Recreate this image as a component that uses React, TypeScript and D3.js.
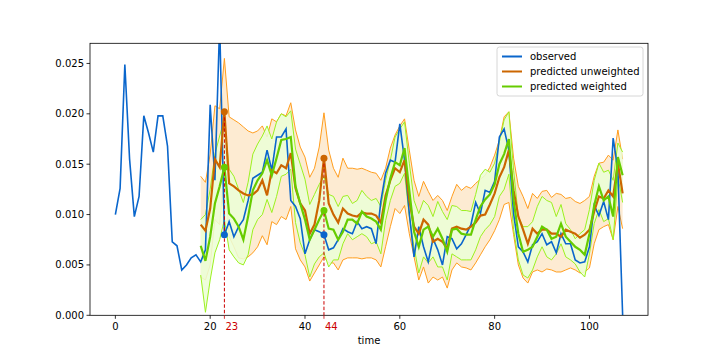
import React from "react";
import * as d3 from "d3";

const observed = [
  0.0100, 0.0126, 0.0249, 0.0155, 0.0098, 0.0118, 0.0198, 0.0181, 0.0162, 0.0198,
  0.0198, 0.0168, 0.0073, 0.0069, 0.0045, 0.0050, 0.0057, 0.0060, 0.0053, 0.0065,
  0.0209, 0.0134, 0.0290, 0.0080, 0.0093, 0.0078, 0.0088, 0.0095, 0.0114, 0.0136,
  0.0139, 0.0142, 0.0164, 0.0144, 0.0177, 0.0177, 0.0185, 0.0114, 0.0108, 0.0096,
  0.0061, 0.0075, 0.0085, 0.0083, 0.0080, 0.0065, 0.0067, 0.0075, 0.0086, 0.0083,
  0.0081, 0.0093, 0.0086, 0.0088, 0.0086, 0.0071, 0.0113, 0.0141, 0.0154, 0.0152,
  0.0190, 0.0154, 0.0101, 0.0058, 0.0088, 0.0068, 0.0053, 0.0076, 0.0065, 0.0050,
  0.0078, 0.0076, 0.0066, 0.0071, 0.0080, 0.0090, 0.0112, 0.0101, 0.0124, 0.0122,
  0.0133, 0.0177, 0.0185, 0.0164, 0.0101, 0.0068, 0.0063, 0.0053, 0.0070, 0.0073,
  0.0081, 0.0070, 0.0073, 0.0062, 0.0081, 0.0071, 0.0071, 0.0055, 0.0052, 0.0053,
  0.0068, 0.0109, 0.0099, 0.0113, 0.0095, 0.0176, 0.0144, 0.0000,
];

const predStart = 18;

const predUnweighted = [
  0.0090, 0.0084, 0.0106, 0.0155, 0.0147, 0.0202, 0.0131, 0.0128, 0.0124, 0.0121,
  0.0119, 0.0120, 0.0124, 0.0134, 0.0119, 0.0144, 0.0141, 0.0149, 0.0146, 0.0161,
  0.0126, 0.0111, 0.0104, 0.0081, 0.0090, 0.0114, 0.0156, 0.0111, 0.0100, 0.0092,
  0.0106, 0.0101, 0.0099, 0.0098, 0.0102, 0.0101, 0.0101, 0.0099, 0.0092, 0.0119,
  0.0134, 0.0146, 0.0142, 0.0154, 0.0114, 0.0088, 0.0081, 0.0095, 0.0090, 0.0073,
  0.0076, 0.0073, 0.0066, 0.0086, 0.0088, 0.0086, 0.0085, 0.0088, 0.0092, 0.0099,
  0.0100, 0.0110, 0.0121, 0.0137, 0.0147, 0.0164, 0.0124, 0.0098, 0.0085, 0.0071,
  0.0086, 0.0081, 0.0085, 0.0085, 0.0081, 0.0081, 0.0078, 0.0085, 0.0083, 0.0081,
  0.0077, 0.0080, 0.0085, 0.0103, 0.0118, 0.0116, 0.0124, 0.0118, 0.0151, 0.0121,
];

const predWeighted = [
  0.0069, 0.0054, 0.0078, 0.0111, 0.0128, 0.0147, 0.0101, 0.0096, 0.0088, 0.0075,
  0.0098, 0.0124, 0.0134, 0.0141, 0.0154, 0.0139, 0.0156, 0.0174, 0.0175, 0.0177,
  0.0128, 0.0111, 0.0095, 0.0075, 0.0085, 0.0095, 0.0104, 0.0086, 0.0085, 0.0075,
  0.0083, 0.0095, 0.0095, 0.0091, 0.0103, 0.0098, 0.0096, 0.0093, 0.0085, 0.0114,
  0.0136, 0.0152, 0.0149, 0.0166, 0.0124, 0.0083, 0.0068, 0.0085, 0.0088, 0.0078,
  0.0086, 0.0076, 0.0063, 0.0085, 0.0086, 0.0081, 0.0080, 0.0080, 0.0095, 0.0108,
  0.0115, 0.0120, 0.0130, 0.0150, 0.0160, 0.0175, 0.0114, 0.0081, 0.0063, 0.0065,
  0.0068, 0.0078, 0.0088, 0.0085, 0.0076, 0.0078, 0.0091, 0.0078, 0.0073, 0.0068,
  0.0065, 0.0060, 0.0081, 0.0109, 0.0128, 0.0114, 0.0118, 0.0098, 0.0157, 0.0139,
];

const unweightedUpper = [
  0.0138, 0.0132, 0.0160, 0.0208, 0.0205, 0.0255, 0.0197, 0.0194, 0.0191, 0.0187,
  0.0183, 0.0181, 0.0183, 0.0188, 0.0177, 0.0195, 0.0192, 0.0200, 0.0198, 0.0211,
  0.0184, 0.0167, 0.0157, 0.0137, 0.0146, 0.0167, 0.0201, 0.0164, 0.0146, 0.0137,
  0.0156, 0.0146, 0.0146, 0.0145, 0.0146, 0.0144, 0.0142, 0.0141, 0.0134, 0.0146,
  0.0166, 0.0179, 0.0188, 0.0195, 0.0164, 0.0134, 0.0118, 0.0133, 0.0123, 0.0114,
  0.0119, 0.0114, 0.0104, 0.0118, 0.0130, 0.0124, 0.0128, 0.0126, 0.0131, 0.0135,
  0.0139, 0.0147, 0.0159, 0.0174, 0.0197, 0.0202, 0.0156, 0.0128, 0.0118, 0.0106,
  0.0121, 0.0116, 0.0123, 0.0124, 0.0117, 0.0121, 0.0120, 0.0116, 0.0117, 0.0113,
  0.0111, 0.0114, 0.0118, 0.0138, 0.0151, 0.0152, 0.0159, 0.0154, 0.0184, 0.0155,
];

const unweightedLower = [
  0.0038, 0.0035, 0.0050, 0.0095, 0.0090, 0.0145, 0.0078, 0.0068, 0.0057, 0.0056,
  0.0058, 0.0062, 0.0068, 0.0079, 0.0070, 0.0093, 0.0090, 0.0098, 0.0095, 0.0108,
  0.0066, 0.0055, 0.0048, 0.0034, 0.0042, 0.0050, 0.0058, 0.0052, 0.0052, 0.0045,
  0.0055, 0.0057, 0.0057, 0.0057, 0.0056, 0.0057, 0.0057, 0.0055, 0.0048, 0.0068,
  0.0088, 0.0106, 0.0101, 0.0109, 0.0081, 0.0058, 0.0035, 0.0048, 0.0032, 0.0038,
  0.0035, 0.0038, 0.0027, 0.0045, 0.0052, 0.0048, 0.0047, 0.0045, 0.0052, 0.0060,
  0.0068, 0.0075, 0.0084, 0.0095, 0.0110, 0.0112, 0.0080, 0.0050, 0.0037, 0.0032,
  0.0043, 0.0045, 0.0043, 0.0046, 0.0045, 0.0043, 0.0043, 0.0045, 0.0047, 0.0045,
  0.0042, 0.0043, 0.0047, 0.0071, 0.0085, 0.0088, 0.0090, 0.0075, 0.0108, 0.0086,
];

const weightedUpper = [
  0.0095, 0.0100, 0.0125, 0.0160, 0.0178, 0.0195, 0.0145, 0.0138, 0.0125, 0.0112,
  0.0132, 0.0160, 0.0170, 0.0178, 0.0188, 0.0175, 0.0192, 0.0200, 0.0197, 0.0203,
  0.0165, 0.0150, 0.0135, 0.0110, 0.0120, 0.0130, 0.0138, 0.0120, 0.0118, 0.0108,
  0.0118, 0.0119, 0.0111, 0.0114, 0.0124, 0.0118, 0.0114, 0.0116, 0.0108, 0.0134,
  0.0154, 0.0177, 0.0185, 0.0192, 0.0151, 0.0114, 0.0101, 0.0114, 0.0109, 0.0098,
  0.0113, 0.0103, 0.0095, 0.0109, 0.0108, 0.0104, 0.0104, 0.0103, 0.0120, 0.0139,
  0.0145, 0.0142, 0.0151, 0.0172, 0.0194, 0.0202, 0.0144, 0.0098, 0.0088, 0.0088,
  0.0093, 0.0108, 0.0118, 0.0114, 0.0112, 0.0098, 0.0110, 0.0091, 0.0085, 0.0076,
  0.0081, 0.0085, 0.0105, 0.0134, 0.0151, 0.0142, 0.0144, 0.0134, 0.0171, 0.0162,
];

const weightedLower = [
  0.0040, 0.0003, 0.0035, 0.0062, 0.0075, 0.0095, 0.0065, 0.0058, 0.0052, 0.0050,
  0.0060, 0.0085, 0.0095, 0.0100, 0.0115, 0.0102, 0.0118, 0.0138, 0.0140, 0.0145,
  0.0092, 0.0072, 0.0060, 0.0038, 0.0051, 0.0058, 0.0062, 0.0048, 0.0055, 0.0055,
  0.0071, 0.0081, 0.0075, 0.0078, 0.0081, 0.0078, 0.0071, 0.0073, 0.0061, 0.0094,
  0.0114, 0.0128, 0.0131, 0.0141, 0.0098, 0.0068, 0.0042, 0.0058, 0.0052, 0.0058,
  0.0048, 0.0048, 0.0035, 0.0061, 0.0058, 0.0055, 0.0055, 0.0055, 0.0065, 0.0078,
  0.0085, 0.0090, 0.0098, 0.0118, 0.0125, 0.0140, 0.0085, 0.0055, 0.0040, 0.0037,
  0.0045, 0.0058, 0.0068, 0.0058, 0.0055, 0.0061, 0.0071, 0.0058, 0.0055, 0.0051,
  0.0043, 0.0038, 0.0061, 0.0091, 0.0105, 0.0093, 0.0096, 0.0075, 0.0138, 0.0112,
];

const highlightTimes = [23, 44];
const xTicks = [0, 20, 40, 60, 80, 100];
const yTicks = [0, 0.005, 0.01, 0.015, 0.02, 0.025];

const legendItems = [
  { label: "observed", color: "#0a66cc" },
  { label: "predicted unweighted", color: "#cc6600" },
  { label: "predicted weighted", color: "#66cc00" },
];

const W = 720, H = 360;
const L = 90, R = 648, T = 43.3, B = 315.3;
const FONT = "DejaVu Sans, sans-serif";

export default function App() {
  const x = d3.scaleLinear().domain([-5.35, 112.35]).range([L, R]);
  const y = d3.scaleLinear().domain([0, 0.027]).range([B, T]);

  const obsPts = observed.map((v, i) => [i, v] as [number, number]);
  const pp = (arr: number[]) => arr.map((v, i) => [i + predStart, v] as [number, number]);
  const line = d3.line<[number, number]>().x(d => x(d[0])).y(d => y(d[1]));
  const bandArea = (lo: number[], hi: number[]) =>
    d3.area<number>()
      .x((_, i) => x(i + predStart))
      .y0((_, i) => y(lo[i]))
      .y1((_, i) => y(hi[i]))(lo.map((_, i) => i)) || "";

  const valAt = (arr: number[], t: number) => arr[t - predStart];

  return (
    <svg width={W} height={H} style={{ display: "block", position: "absolute", left: 0, top: 0 }}>
      <defs>
        <clipPath id="plot">
          <rect x={L} y={T} width={R - L} height={B - T} />
        </clipPath>
      </defs>
      <rect x={0} y={0} width={W} height={H} fill="#fff" />
      <g clipPath="url(#plot)">
        <path d={bandArea(unweightedLower, unweightedUpper)} fill="#fdebd2" stroke="none" />
        <path d={line(pp(unweightedUpper)) || ""} fill="none" stroke="#ff9d1e" strokeWidth={1} />
        <path d={line(pp(unweightedLower)) || ""} fill="none" stroke="#ff9d1e" strokeWidth={1} />
        <path d={bandArea(weightedLower, weightedUpper)} fill="#ecfed6" fillOpacity={0.88} stroke="none" />
        <path d={line(pp(weightedUpper)) || ""} fill="none" stroke="#9cf020" strokeWidth={1} />
        <path d={line(pp(weightedLower)) || ""} fill="none" stroke="#9cf020" strokeWidth={1} />
        <path d={line(obsPts) || ""} fill="none" stroke="#0a66cc" strokeWidth={1.6} />
        <path d={line(pp(predUnweighted)) || ""} fill="none" stroke="#cc6600" strokeWidth={2.2} />
        <path d={line(pp(predWeighted)) || ""} fill="none" stroke="#66cc00" strokeWidth={2.2} />
        {highlightTimes.map(t => (
          <line key={"d" + t} x1={x(t)} x2={x(t)} y1={y(valAt(predUnweighted, t))} y2={B}
            stroke="#cc0000" strokeWidth={1} strokeDasharray="3.5,2" />
        ))}
        {highlightTimes.map(t => (
          <g key={"p" + t}>
            <circle cx={x(t)} cy={y(observed[t])} r={3.5} fill="#0a66cc" />
            <circle cx={x(t)} cy={y(valAt(predUnweighted, t))} r={3.5} fill="#cc6600" />
            <circle cx={x(t)} cy={y(valAt(predWeighted, t))} r={3.5} fill="#66cc00" />
          </g>
        ))}
      </g>
      <rect x={L} y={T} width={R - L} height={B - T} fill="none" stroke="#000" strokeWidth={0.8} />
      {yTicks.map(v => (
        <g key={"y" + v}>
          <line x1={L - 3.5} x2={L} y1={y(v)} y2={y(v)} stroke="#000" strokeWidth={0.8} />
          <text x={L - 6} y={y(v)} dy="0.35em" textAnchor="end" fontSize={10} fontFamily={FONT} fill="#000">
            {d3.format(".3f")(v)}
          </text>
        </g>
      ))}
      {xTicks.map(v => (
        <g key={"x" + v}>
          <line x1={x(v)} x2={x(v)} y1={B} y2={B + 3.5} stroke="#000" strokeWidth={0.8} />
          <text x={x(v)} y={B + 15} textAnchor="middle" fontSize={10} fontFamily={FONT} fill="#000">{v}</text>
        </g>
      ))}
      {highlightTimes.map(v => (
        <g key={"hx" + v}>
          <line x1={x(v)} x2={x(v)} y1={B} y2={B + 3.5} stroke="#cc0000" strokeWidth={0.8} />
          <text x={x(v) + 1} y={B + 15} textAnchor="start" fontSize={10} fontFamily={FONT} fill="#cc0000">{v}</text>
        </g>
      ))}
      <text x={(L + R) / 2} y={B + 29} textAnchor="middle" fontSize={10} fontFamily={FONT} fill="#000">time</text>
      <g>
        <rect x={497} y={47} width={146} height={49} rx={2.5} fill="#fff" fillOpacity={0.8} stroke="#cccccc" strokeWidth={0.8} />
        {legendItems.map((it, i) => (
          <g key={it.label}>
            <line x1={502} x2={522} y1={56.5 + i * 15} y2={56.5 + i * 15} stroke={it.color} strokeWidth={2} />
            <text x={530} y={56.5 + i * 15} dy="0.35em" fontSize={10} fontFamily={FONT} fill="#000">{it.label}</text>
          </g>
        ))}
      </g>
    </svg>
  );
}
